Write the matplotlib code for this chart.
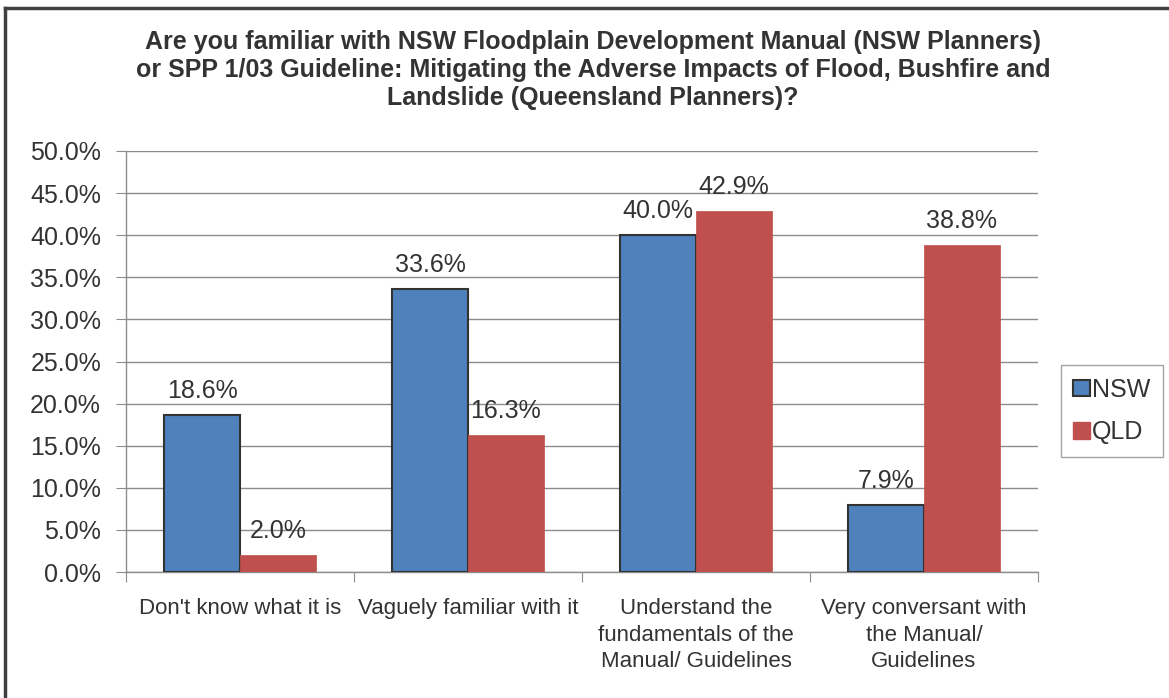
import matplotlib
matplotlib.use("Agg")
import matplotlib.pyplot as plt
import numpy as np
from matplotlib.patches import Patch
from matplotlib.lines import Line2D

categories = ["Don't know what it is", "Vaguely familiar with it",
              "Understand the\nfundamentals of the\nManual/ Guidelines",
              "Very conversant with\nthe Manual/\nGuidelines"]
nsw = [18.6, 33.6, 40.0, 7.9]
qld = [2.0, 16.3, 42.9, 38.8]
series_names = ["NSW", "QLD"]
yticks = [0, 5, 10, 15, 20, 25, 30, 35, 40, 45, 50]

plt.rcParams['font.family'] = ['Liberation Sans', 'DejaVu Sans']

W, H = 1169, 698
fig = plt.figure(figsize=(W/100, H/100), dpi=100)
ax = fig.add_axes([126/W, 1-572/H, (1038-126)/W, (572-151)/H])

x = np.arange(len(categories))
bw = 0.333
c_nsw = '#4F81BD'
c_qld = '#C0504D'
txt = '#333333'
ax.bar(x - bw/2, nsw, bw, color=c_nsw, edgecolor='#333333', linewidth=1.5, zorder=3)
ax.bar(x + bw/2, qld, bw, color=c_qld, edgecolor=c_qld, linewidth=0.5, zorder=3)

for xs, vals in ((x - bw/2, nsw), (x + bw/2, qld)):
    for xi, v in zip(xs, vals):
        ax.annotate(f"{v:.1f}%", (xi, v), xytext=(0, 12.3), textcoords='offset points',
                    ha='center', va='baseline', fontsize=18, color=txt, zorder=4)

ax.set_xlim(-0.5, len(categories) - 0.5)
ax.set_ylim(0, 50)
ax.set_yticks(yticks)
ax.set_yticklabels([f"{t:.1f}%" for t in yticks], fontsize=18, color=txt)
ax.yaxis.grid(True, color='#8C8C8C', linewidth=1, zorder=0)
ax.set_axisbelow(True)

ax.set_xticks(np.arange(len(categories) + 1) - 0.5, minor=False)
ax.set_xticklabels([])
ax.set_xticks(x, minor=True)
ax.set_xticklabels(categories, minor=True, fontsize=16, color=txt, linespacing=1.32, va='top')
ax.tick_params(axis='x', which='minor', length=0, pad=19)
ax.tick_params(axis='x', which='major', length=7, color='#8C8C8C', direction='out')
ax.tick_params(axis='y', length=7, color='#8C8C8C', pad=11)

for s in ['top', 'right']:
    ax.spines[s].set_visible(False)
for s in ['left', 'bottom']:
    ax.spines[s].set_color('#8C8C8C')
    ax.spines[s].set_linewidth(1)

fig.text(593/W, 1-70/H,
         "Are you familiar with NSW Floodplain Development Manual (NSW Planners)\n"
         "or SPP 1/03 Guideline: Mitigating the Adverse Impacts of Flood, Bushfire and\n"
         "Landslide (Queensland Planners)?",
         ha='center', va='center', fontsize=18, fontweight='bold', color=txt, linespacing=1.2)

handles = [Patch(facecolor=c_nsw, edgecolor='#333333', linewidth=1.5),
           Patch(facecolor=c_qld, edgecolor=c_qld)]
leg = fig.legend(handles, series_names, loc='center', bbox_to_anchor=(1112/W, 1-411/H),
                 fontsize=18, frameon=True, fancybox=False, edgecolor='#8C8C8C',
                 handlelength=0.65, handleheight=0.65, handletextpad=0.1,
                 labelspacing=0.75, borderpad=0.5, borderaxespad=0, labelcolor=txt)
leg.get_frame().set_linewidth(1)

# figure frame (top and left visible)
fig.add_artist(Line2D([5/W, 5/W], [0, 1-8/H], color='#404040', linewidth=2.5, transform=fig.transFigure))
fig.add_artist(Line2D([5/W, 1], [1-8/H, 1-8/H], color='#404040', linewidth=2.5, transform=fig.transFigure))

fig.savefig('out.png', dpi=100)
